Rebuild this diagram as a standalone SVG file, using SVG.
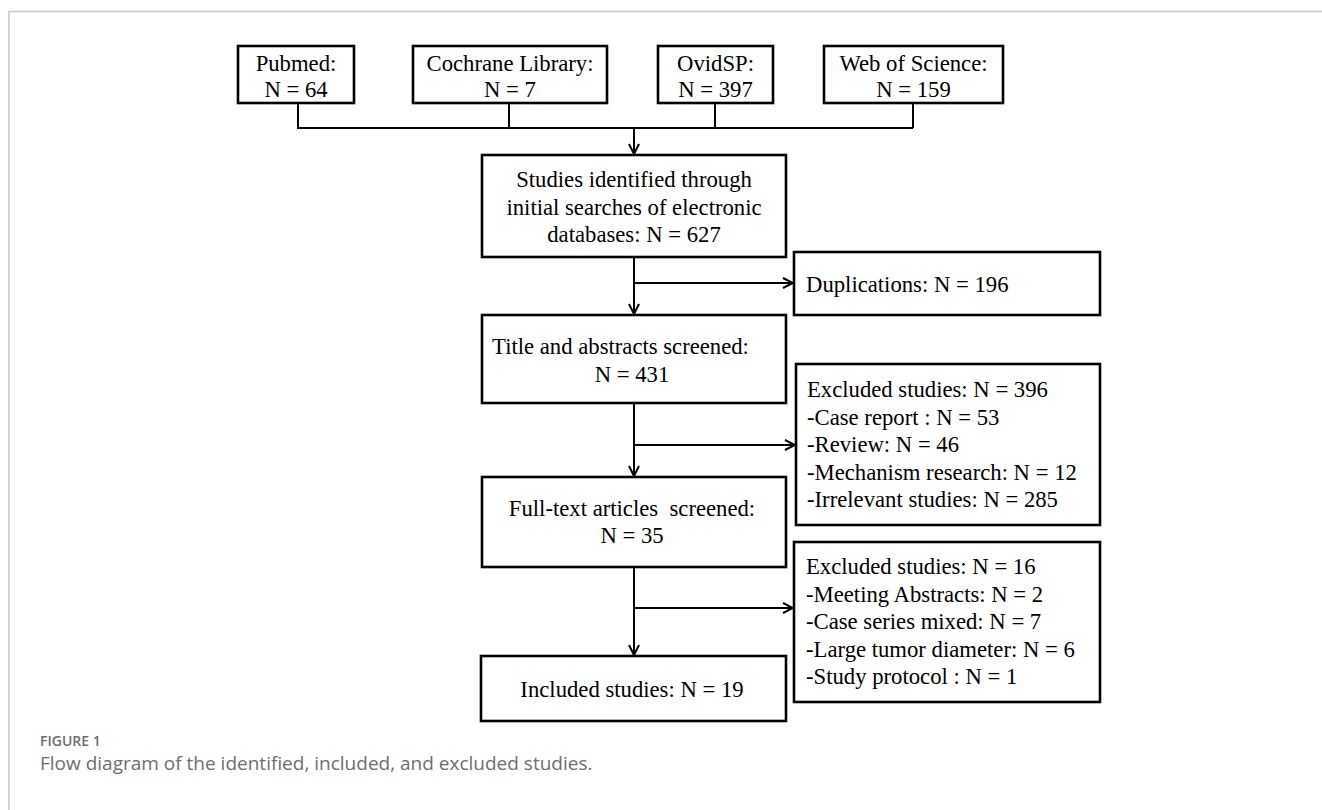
<svg xmlns="http://www.w3.org/2000/svg" width="1322" height="810" viewBox="0 0 1322 810">
<style>
.box{fill:#fff;stroke:#000;stroke-width:2.6}
.t{font-family:"Liberation Serif","Times New Roman",serif;font-size:22.7px;fill:#000}
.c{text-anchor:middle}
.con{fill:none;stroke:#000;stroke-width:2}
.frame{fill:none;stroke:#c8c8c8;stroke-width:1.5}
.cap{font-family:"Open Sans","Noto Sans",sans-serif;fill:#6e6e6e}
</style>
<defs>
<marker id="ah" viewBox="0 0 12 12" refX="11" refY="6" markerWidth="12" markerHeight="12" markerUnits="userSpaceOnUse" orient="auto">
<path d="M1,1 L11,6 L1,11" fill="none" stroke="#000" stroke-width="2"/>
</marker>
</defs>
<rect width="1322" height="810" fill="#fff"/>
<path class="frame" d="M9,810 V11.5 H1322"/>

<g id="connectors">
<path class="con" d="M298,103 V128 H913 M509,103 V128 M715,103 V128 M913,103 V128"/>
<path class="con" d="M634,128 V154" marker-end="url(#ah)"/>
<path class="con" d="M634,257 V314" marker-end="url(#ah)"/>
<path class="con" d="M634,283 H793" marker-end="url(#ah)"/>
<path class="con" d="M634,403 V476" marker-end="url(#ah)"/>
<path class="con" d="M634,445 H795" marker-end="url(#ah)"/>
<path class="con" d="M634,567 V655" marker-end="url(#ah)"/>
<path class="con" d="M634,608 H793" marker-end="url(#ah)"/>
</g>

<g id="pubmed">
<rect class="box" x="238" y="46" width="116" height="57"/>
<text class="t c" x="296" y="71">Pubmed:</text>
<text class="t c" x="296" y="97">N = 64</text>
</g>
<g id="cochrane">
<rect class="box" x="413" y="46" width="194" height="57"/>
<text class="t c" x="510" y="71">Cochrane Library:</text>
<text class="t c" x="510" y="97">N = 7</text>
</g>
<g id="ovidsp">
<rect class="box" x="658" y="46" width="115" height="57"/>
<text class="t c" x="715.5" y="71">OvidSP:</text>
<text class="t c" x="715.5" y="97">N = 397</text>
</g>
<g id="wos">
<rect class="box" x="824" y="46" width="179" height="57"/>
<text class="t c" x="913.5" y="71">Web of Science:</text>
<text class="t c" x="913.5" y="97">N = 159</text>
</g>

<g id="identified">
<rect class="box" x="482" y="155" width="304" height="102"/>
<text class="t c" x="634" y="187">Studies identified through</text>
<text class="t c" x="634" y="214.5">initial searches of electronic</text>
<text class="t c" x="634" y="242">databases: N = 627</text>
</g>

<g id="duplications">
<rect class="box" x="794" y="252" width="306" height="63"/>
<text class="t" x="806" y="292">Duplications: N = 196</text>
</g>

<g id="title-abstracts">
<rect class="box" x="482" y="315" width="304" height="88"/>
<text class="t c" x="620.5" y="354">Title and abstracts screened:</text>
<text class="t c" x="632" y="382">N = 431</text>
</g>

<g id="excluded1">
<rect class="box" x="796" y="364" width="304" height="161"/>
<text class="t" x="807" y="397">Excluded studies: N = 396</text>
<text class="t" x="807" y="424.5">-Case report : N = 53</text>
<text class="t" x="807" y="452">-Review: N = 46</text>
<text class="t" x="807" y="479.5">-Mechanism research: N = 12</text>
<text class="t" x="807" y="507">-Irrelevant studies: N = 285</text>
</g>

<g id="fulltext">
<rect class="box" x="482" y="477" width="304" height="90"/>
<text class="t c" x="632" y="516" xml:space="preserve">Full-text articles  screened:</text>
<text class="t c" x="632" y="543">N = 35</text>
</g>

<g id="excluded2">
<rect class="box" x="794" y="542" width="306" height="160"/>
<text class="t" x="806" y="574">Excluded studies: N = 16</text>
<text class="t" x="806" y="601.5">-Meeting Abstracts: N = 2</text>
<text class="t" x="806" y="629">-Case series mixed: N = 7</text>
<text class="t" x="806" y="656.5">-Large tumor diameter: N = 6</text>
<text class="t" x="806" y="684">-Study protocol : N = 1</text>
</g>

<g id="included">
<rect class="box" x="481" y="656" width="305" height="65"/>
<text class="t c" x="632" y="697">Included studies: N = 19</text>
</g>

<text class="cap" x="40" y="746" font-size="14" font-weight="600">FIGURE 1</text>
<text class="cap" x="40" y="770" font-size="19">Flow diagram of the identified, included, and excluded studies.</text>
</svg>
